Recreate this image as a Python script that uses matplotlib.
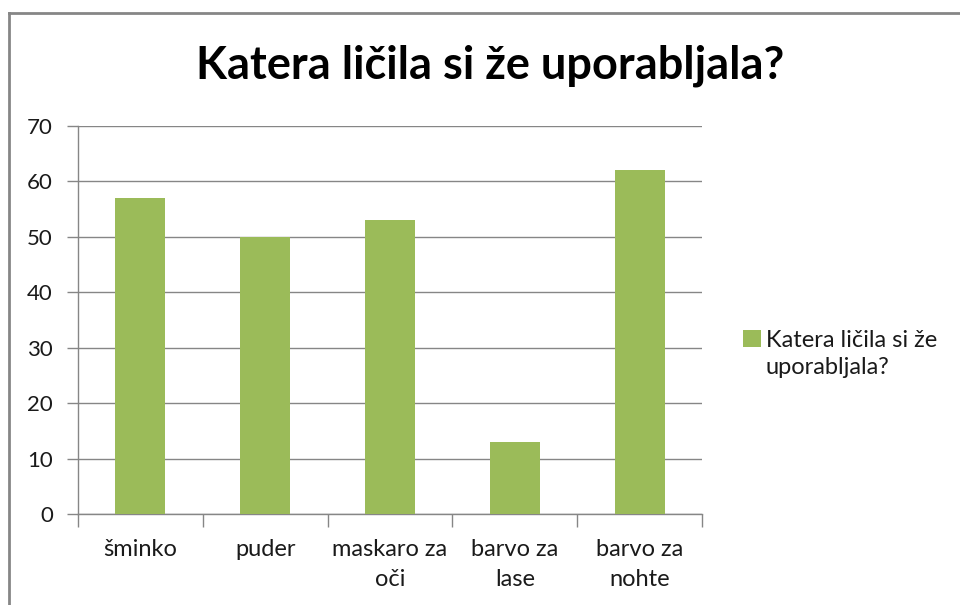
import matplotlib.pyplot as plt
from matplotlib.lines import Line2D
from matplotlib.patches import Patch

categories = ["šminko", "puder", "maskaro za\noči", "barvo za\nlase", "barvo za\nnohte"]
values = [57, 50, 53, 13, 62]
series_name = ["Katera ličila si že", "uporabljala?"]
title = "Katera ličila si že uporabljala?"
yticks = [0, 10, 20, 30, 40, 50, 60, 70]

plt.rcParams['font.family'] = ['Lato', 'DejaVu Sans']
green = "#9bbb59"
grey = "#868686"
txt = "#1a1a1a"

fig = plt.figure(figsize=(9.6, 6.05), dpi=100)
ax = fig.add_axes([78/960, 1 - 514/605, 624/960, 388/605])

ax.bar(range(len(values)), values, width=0.4, color=green, zorder=3)
ax.set_xlim(-0.5, len(values) - 0.5)
ax.set_ylim(0, 70)
ax.set_yticks(yticks)
ax.yaxis.grid(True, color=grey, linewidth=1, zorder=0)

ax.set_xticks(range(len(values)))
ax.set_xticklabels(categories, fontsize=17, linespacing=1.5, color=txt)
ax.set_xticks([i - 0.5 for i in range(len(values) + 1)], minor=True)
ax.tick_params(axis='x', which='major', length=0, pad=18)
ax.tick_params(axis='x', which='minor', length=9, color=grey, width=1)
ax.tick_params(axis='y', length=8, color=grey, width=1, labelsize=16, pad=10, labelcolor=txt)

for s in ['top', 'right']:
    ax.spines[s].set_visible(False)
for s in ['left', 'bottom']:
    ax.spines[s].set_color(grey)
    ax.spines[s].set_linewidth(1)

fig.text(490/960, 1 - 66/605, title, fontsize=32.5, fontweight='bold',
         ha='center', va='center', color="#000000")

# legend: square sits next to the first line of the wrapped label
handles = [Patch(facecolor=green, edgecolor='none'),
           Patch(facecolor='none', edgecolor='none')]
leg = fig.legend(handles, series_name, loc='center left',
                 bbox_to_anchor=(722/960, 1 - 354/605), frameon=False,
                 fontsize=17, handlelength=0.75, handleheight=0.75,
                 handletextpad=0.2, labelspacing=0.25)
for t in leg.get_texts():
    t.set_color(txt)

# chart frame (only top and left edges are visible)
fig.add_artist(Line2D([9/960, 9/960], [0, 1 - 13/605], color=grey, linewidth=2,
                      transform=fig.transFigure))
fig.add_artist(Line2D([9/960, 1], [1 - 13/605, 1 - 13/605], color=grey, linewidth=2,
                      transform=fig.transFigure))

fig.savefig("out.png", dpi=100)
